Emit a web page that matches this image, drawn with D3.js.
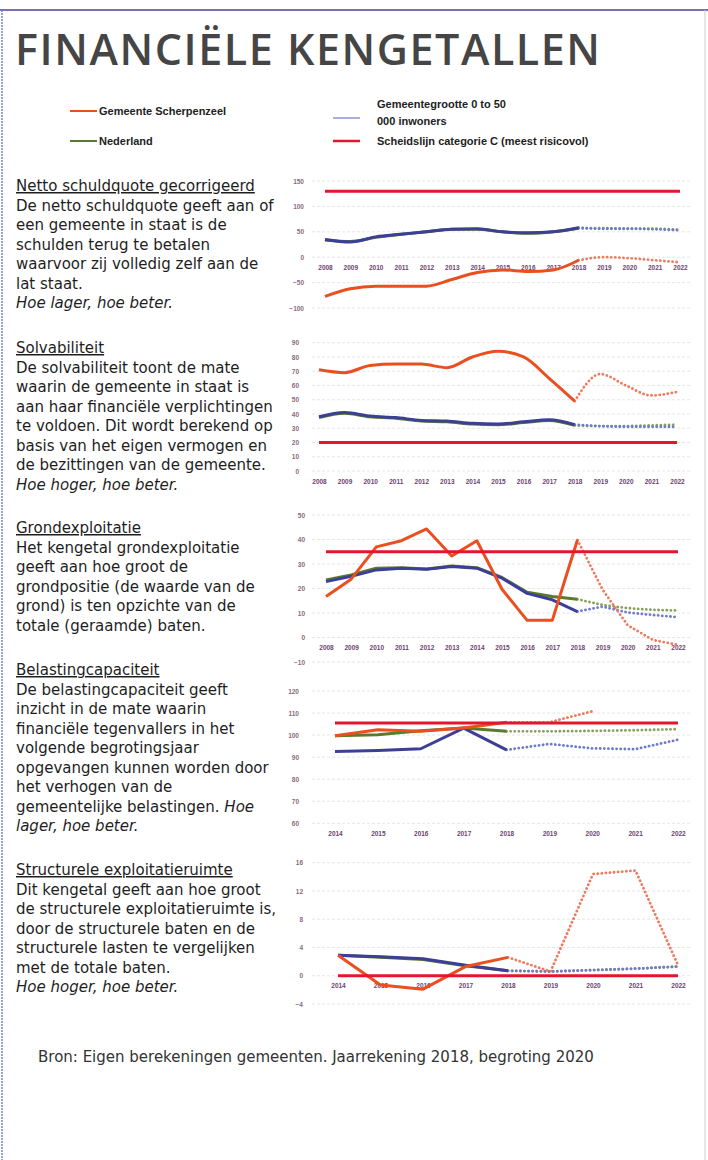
<!DOCTYPE html>
<html>
<head>
<meta charset="utf-8">
<script src="https://cdn.jsdelivr.net/npm/d3@7"></script>
<style>
  body { margin: 0; background: #fff; }
  svg { display: block; }
</style>
</head>
<body>
<div id="page"></div>
<script>
// ---- data ----
const yearsLong = [2008, 2009, 2010, 2011, 2012, 2013, 2014, 2015, 2016, 2017, 2018, 2019, 2020, 2021, 2022];
const yearsShort = [2014, 2015, 2016, 2017, 2018, 2019, 2020, 2021, 2022];
const lastActual = 2018; // after this year the lines are dotted (begroting)

const legendNames = ["Gemeente Scherpenzeel", "Nederland", "Gemeentegrootte 0 to 50", "000 inwoners", "Scheidslijn categorie C (meest risicovol)"];

// Netto schuldquote gecorrigeerd
const schuldTicks = [150, 100, 50, 0, -50, -100];
const schuldScherpenzeel = [-77, -62, -57, -57, -57, -44, -30, -25, -28, -25, -6, 0, -2, -6, -10];
const schuldGrootte = [35, 30, 40, 45, 50, 55, 56, 50, 48, 50, 58, 56, 56, 55, 53];
const schuldNederland = [34, 31, 39, 45, 50, 55, 55, 50, 47, 50, 57, 57, 56, 56, 54];
const schuldGrens = 130;

// Solvabiliteit
const solvTicks = [90, 80, 70, 60, 50, 40, 30, 20, 10, 0];
const solvScherpenzeel = [71, 69, 74, 75, 75, 72.5, 80, 84, 80, 65, 49, 68, 60, 53, 55.5];
const solvGrootte = [38, 41, 38.5, 37.5, 35.5, 35, 33.5, 33, 34.5, 36, 32.5, 31.5, 31, 31, 31];
const solvNederland = [37.5, 40.5, 38, 37, 35, 34.5, 33, 32.5, 34, 35.5, 32, 31.5, 31.5, 32, 32.5];
const solvGrens = 20;

// Grondexploitatie
const grondTicks = [50, 40, 30, 20, 10, 0, -10];
const grondScherpenzeel = [16.7, 23.8, 37, 39.5, 44.3, 33.3, 39.5, 19.7, 7, 7, 39.8, 19.5, 5, -1, -3];
const grondGrootte = [22.8, 25, 27.6, 28.3, 27.9, 29, 28.3, 24.2, 18, 15.4, 10.6, 12.6, 10.2, 9.2, 8.3];
const grondNederland = [23.5, 25.5, 28.3, 28.5, 28, 29.2, 28.5, 24.5, 18.5, 16.7, 15.6, 13.3, 12, 11.3, 11];
const grondGrens = 35;

// Belastingcapaciteit
const belastTicks = [120, 110, 100, 90, 80, 70, 60];
const belastScherpenzeel = [99.7, 102.4, 101.7, 103.2, 105.8, 105.8, 110.8, null, null];
const belastGrootte = [92.6, 93, 93.8, 103.2, 93.3, 96, 94, 93.6, 97.9];
const belastNederland = [99.7, 100.2, 102, 103.2, 101.7, 101.7, 101.9, 102.2, 102.7];
const belastGrens = 105.5;

// Structurele exploitatieruimte
const strucTicks = [16, 12, 8, 4, 0, -4];
const strucScherpenzeel = [2.9, -1.3, -1.9, 1.3, 2.6, 0.6, 14.4, 14.9, 1.5];
const strucGrootte = [2.9, 2.7, 2.4, 1.5, 0.7, 0.6, 0.8, 1.0, 1.3];
const strucNederland = [2.9, 2.6, 2.3, 1.4, 0.7, 0.6, 0.8, 1.0, 1.3];
const strucGrens = 0;

// left column text, _..._ marks italic
const textBlocks = [
  { y: 191, title: "Netto schuldquote gecorrigeerd", lines: [
    "De netto schuldquote geeft aan of", "een gemeente in staat is de", "schulden terug te betalen",
    "waarvoor zij volledig zelf aan de", "lat staat.", "_Hoe lager, hoe beter._"] },
  { y: 353, title: "Solvabiliteit", lines: [
    "De solvabiliteit toont de mate", "waarin de gemeente in staat is", "aan haar financiële verplichtingen",
    "te voldoen. Dit wordt berekend op", "basis van het eigen vermogen en", "de bezittingen van de gemeente.",
    "_Hoe hoger, hoe beter._"] },
  { y: 533, title: "Grondexploitatie", lines: [
    "Het kengetal grondexploitatie", "geeft aan hoe groot de", "grondpositie (de waarde van de",
    "grond) is ten opzichte van de", "totale (geraamde) baten."] },
  { y: 675, title: "Belastingcapaciteit", lines: [
    "De belastingcapaciteit geeft", "inzicht in de mate waarin", "financiële tegenvallers in het",
    "volgende begrotingsjaar", "opgevangen kunnen worden door", "het verhogen van de",
    "gemeentelijke belastingen. _Hoe_", "_lager, hoe beter._"] },
  { y: 875, title: "Structurele exploitatieruimte", lines: [
    "Dit kengetal geeft aan hoe groot", "de structurele exploitatieruimte is,", "door de structurele baten en de",
    "structurele lasten te vergelijken", "met de totale baten.", "_Hoe hoger, hoe beter._"] }
];

const colors = {
  orange: "#ea4f1f", orangeDot: "#ef7b5e",
  blue: "#3b3f96", blueDot: "#6f7bc8",
  green: "#5c7a2e", greenDot: "#88a05c",
  red: "#e3162d"
};

const width = 708, height = 1160;
const svg = d3.select("#page").append("svg")
  .attr("width", width).attr("height", height);

// page frame
svg.append("line").attr("x1", 0).attr("x2", width).attr("y1", 10).attr("y2", 10)
  .style("stroke", "#7b6fb8").style("stroke-width", 2);
svg.append("line").attr("x1", 2).attr("x2", 2).attr("y1", 10).attr("y2", height)
  .style("stroke", "#6e86c8").style("stroke-width", 1.5).style("stroke-dasharray", "2,1");
svg.append("line").attr("x1", 705).attr("x2", 705).attr("y1", 10).attr("y2", height)
  .style("stroke", "#c9c9d6").style("stroke-width", 1);

// title
svg.append("text")
  .attr("x", 15).attr("y", 65)
  .attr("textLength", 585).attr("lengthAdjust", "spacing")
  .style("font-family", "'Open Sans', sans-serif")
  .style("font-size", "43px").style("font-weight", "600")
  .style("fill", "#454545")
  .text("FINANCIËLE KENGETALLEN");

// legend
const legend = svg.append("g")
  .style("font-family", "'Liberation Sans', Arial, sans-serif")
  .style("font-size", "11px").style("font-weight", "bold").style("fill", "#222");
function legendItem(x, y, color, w) {
  legend.append("line").attr("x1", x).attr("x2", x + 27).attr("y1", y).attr("y2", y)
    .style("stroke", color).style("stroke-width", w);
}
legendItem(70, 111, colors.orange, 2);
legendItem(70, 141, colors.green, 2);
legendItem(333, 118, colors.blueDot, 1.2);
legendItem(333, 141, colors.red, 2.5);
legend.append("text").attr("x", 99).attr("y", 115).text(legendNames[0]);
legend.append("text").attr("x", 99).attr("y", 145).text(legendNames[1]);
legend.append("text").attr("x", 377).attr("y", 108).text(legendNames[2]);
legend.append("text").attr("x", 377).attr("y", 125).text(legendNames[3]);
legend.append("text").attr("x", 377).attr("y", 145).text(legendNames[4]);

// left text
const lineH = 19.5;
const left = svg.append("g")
  .style("font-family", "'DejaVu Sans', Verdana, sans-serif")
  .style("font-size", "15px").style("fill", "#1e1e1e");
textBlocks.forEach(b => {
  left.append("text").attr("x", 16).attr("y", b.y)
    .style("text-decoration", "underline").text(b.title);
  b.lines.forEach((ln, i) => {
    const t = left.append("text").attr("x", 16).attr("y", b.y + (i + 1) * lineH);
    ln.split("_").forEach((part, j) => {
      if (part === "") return;
      t.append("tspan").style("font-style", j % 2 === 1 ? "italic" : "normal").text(part);
    });
  });
});

// footer
svg.append("text")
  .attr("x", 38).attr("y", 1062)
  .style("font-family", "'DejaVu Sans', Verdana, sans-serif")
  .style("font-size", "15px").style("fill", "#333")
  .text("Bron: Eigen berekeningen gemeenten. Jaarrekening 2018, begroting 2020");

// ---- charts ----
function drawChart(cfg) {
  const g = svg.append("g");
  const x = d3.scaleLinear().domain(d3.extent(cfg.years)).range(cfg.xRange);
  const y = d3.scaleLinear().domain([d3.min(cfg.ticks), d3.max(cfg.ticks)]).range(cfg.yRange);

  // gridlines
  g.selectAll(".grid").data(cfg.ticks).enter().append("line")
    .attr("x1", 312).attr("x2", 692)
    .attr("y1", d => y(d)).attr("y2", d => y(d))
    .style("stroke", "#e0e0e0").style("stroke-width", 0.8).style("stroke-dasharray", "3,2");

  // y axis labels
  const yAxis = g.append("g").attr("transform", `translate(${cfg.yLabelX},0)`)
    .call(d3.axisLeft(y).tickValues(cfg.ticks).tickSize(0).tickPadding(0).tickFormat(d3.format("d")));
  yAxis.select(".domain").remove();
  yAxis.selectAll("text").style("font-family", "'Liberation Sans', Arial, sans-serif")
    .style("font-size", "6.5px").style("font-weight", "bold").style("fill", "#8a6a7e");

  // x axis labels
  const base = d3.min(cfg.ticks) >= 0 ? d3.min(cfg.ticks) : 0;
  const xAxis = g.append("g").attr("transform", `translate(0,${y(base) + 8})`)
    .call(d3.axisBottom(x).tickValues(cfg.years).tickSize(0).tickPadding(0).tickFormat(d3.format("d")));
  xAxis.select(".domain").remove();
  xAxis.selectAll("text").style("font-family", "'Liberation Sans', Arial, sans-serif")
    .style("font-size", "6.5px").style("font-weight", "bold").style("fill", "#6e4470");

  const line = d3.line()
    .defined(d => d.v !== null)
    .x(d => x(d.year))
    .y(d => y(d.v))
    .curve(cfg.curve);

  cfg.series.forEach(s => {
    const pts = cfg.years.map((yr, i) => ({ year: yr, v: s.values[i] }));
    const actual = pts.filter(p => p.year <= lastActual);
    const forecast = pts.filter(p => p.year >= lastActual && p.v !== null);
    g.append("path").datum(forecast)
      .attr("d", line)
      .style("fill", "none").style("stroke", s.dot)
      .style("stroke-width", 2.8).style("stroke-linecap", "round")
      .style("stroke-dasharray", "0.1,4");
    g.append("path").datum(actual)
      .attr("d", line)
      .style("fill", "none").style("stroke", s.color)
      .style("stroke-width", 3).style("stroke-linejoin", "round");
  });

  // scheidslijn
  g.append("line")
    .attr("x1", x(cfg.years[0])).attr("x2", x(cfg.years[cfg.years.length - 1]))
    .attr("y1", y(cfg.grens)).attr("y2", y(cfg.grens))
    .style("stroke", colors.red).style("stroke-width", 3);
}

function seriesOf(sch, gro, ned) {
  return [
    { values: ned, color: colors.green, dot: colors.greenDot },
    { values: gro, color: colors.blue, dot: colors.blueDot },
    { values: sch, color: colors.orange, dot: colors.orangeDot }
  ];
}

drawChart({ years: yearsLong, ticks: schuldTicks, xRange: [325, 680], yRange: [308, 181], yLabelX: 304,
  grens: schuldGrens, curve: d3.curveMonotoneX,
  series: seriesOf(schuldScherpenzeel, schuldGrootte, schuldNederland) });

drawChart({ years: yearsLong, ticks: solvTicks, xRange: [319, 677], yRange: [471, 342.7], yLabelX: 299,
  grens: solvGrens, curve: d3.curveMonotoneX,
  series: seriesOf(solvScherpenzeel, solvGrootte, solvNederland) });

drawChart({ years: yearsLong, ticks: grondTicks, xRange: [326, 678], yRange: [662, 515], yLabelX: 305,
  grens: grondGrens, curve: d3.curveLinear,
  series: seriesOf(grondScherpenzeel, grondGrootte, grondNederland) });

drawChart({ years: yearsShort, ticks: belastTicks, xRange: [335, 678], yRange: [823.3, 691], yLabelX: 299,
  grens: belastGrens, curve: d3.curveLinear,
  series: seriesOf(belastScherpenzeel, belastGrootte, belastNederland) });

drawChart({ years: yearsShort, ticks: strucTicks, xRange: [338, 678], yRange: [1004, 862.7], yLabelX: 303,
  grens: strucGrens, curve: d3.curveLinear,
  series: seriesOf(strucScherpenzeel, strucGrootte, strucNederland) });
</script>
</body>
</html>
